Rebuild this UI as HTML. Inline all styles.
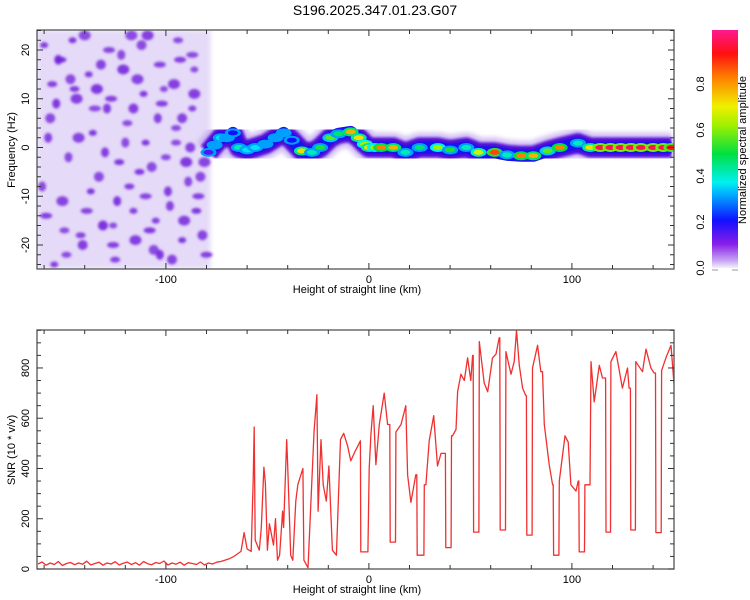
<!DOCTYPE html>
<html><head><meta charset="utf-8"><style>
html,body{margin:0;padding:0;background:#fff}
svg{display:block;font-family:"Liberation Sans",sans-serif}
</style></head><body>
<svg id="c" width="750" height="600" viewBox="0 0 750 600" xmlns="http://www.w3.org/2000/svg">
<defs>
<linearGradient id="cbg" x1="0" y1="1" x2="0" y2="0">
<stop offset="0" stop-color="#f4f0fc"/><stop offset="0.03" stop-color="#c8a8f4"/><stop offset="0.1" stop-color="#8a1ee8"/>
<stop offset="0.2" stop-color="#1010ff"/><stop offset="0.3" stop-color="#00a0ff"/><stop offset="0.36" stop-color="#00f0f0"/>
<stop offset="0.48" stop-color="#00e040"/><stop offset="0.6" stop-color="#a0f000"/><stop offset="0.68" stop-color="#f0f000"/>
<stop offset="0.8" stop-color="#ff8000"/><stop offset="0.9" stop-color="#ff1010"/><stop offset="1" stop-color="#ff1890"/>
</linearGradient>
<clipPath id="clipTop"><rect x="37" y="30" width="637" height="239"/></clipPath>
<clipPath id="clipBot"><rect x="37" y="330" width="637" height="239"/></clipPath>
<filter id="blur1"><feGaussianBlur stdDeviation="1.2"/></filter>
<filter id="blur2"><feGaussianBlur stdDeviation="2.5"/></filter>
</defs>
<text x="375" y="15" text-anchor="middle" font-size="14">S196.2025.347.01.23.G07</text>
<g id="topPanel"></g>
<g id="botPanel"></g>
<g id="cb"></g>
</svg>
<script>
// ---- data ----
const xDomain = [-163.5, 150.3];
const xTicks = [-100, 0, 100];
const freqTicks = [-20, -10, 0, 10, 20];
const snrTicks = [0, 200, 400, 600, 800];
const cbTicks = [0.0, 0.2, 0.4, 0.6, 0.8];
// SNR series (km, value) — rows of ten
const snrKm = [
-163,-161,-159,-157,-155,-153,-151,-149,-147,-145,
-143,-141,-139,-137,-135,-133,-131,-129,-127,-125,
-123,-121,-119,-117,-115,-113,-111,-109,-107,-105,
-103,-101,-99,-97,-95,-93,-91,-89,-87,-85,
-83,-81,-79,-77,-75,-73,-71,-69,
-66.5,-63,-61.5,-60,-58,-57,-56.5,-56,-54,-53,
-51.7,-51,-50,-49,-47,-46,-45,-44,-42.5,-42,
-40.5,-40,-38.5,-37.5,-36,-35,-33.5,-32.5,-32,-30,
-28.6,-27,-25.6,-25,-23.6,-22.5,-21,-19.7,-18,-16,
-14,-12.4,-10.5,-8.9,-7,-5.4,-4.2,-4,-0.5,0.16,
0.99,2.1,3.45,5.1,7.55,9.2,10.3,10.5,13.1,13.3,
15.8,18.2,19.05,20.7,23.1,23.6,23.8,27.1,27.3,28.1,
29.7,31.9,33.8,35.5,37.1,37.7,37.9,40.5,40.7,41.2,
42.9,43.7,45.3,47,48.6,50.2,51.1,51.4,51.6,54.2,
54.4,56.8,58.5,60.9,62.6,64.2,64.5,64.7,67.3,67.5,
70,71.6,72.7,74.1,75.7,77.3,77.6,77.8,80.4,80.6,
83.1,84.7,85.5,86.4,88.8,90.5,90.8,91,93.6,93.8,
96.6,98.2,99.5,102,103.1,103.4,103.6,106.2,106.4,108.9,
109.4,111,113.5,115.1,116.6,116.8,119,119.2,121.7,124.9,
127.4,128.2,128.8,129,131.3,131.5,134.8,136.5,138.9,140.5,
141.2,141.4,144,144.2,146.3,148.8,151];
const snrVal = [
20,28,15,24,18,30,14,22,26,17,
24,19,31,16,22,27,15,24,20,29,
16,23,28,18,25,15,30,21,17,26,
22,32,16,24,19,27,15,25,22,18,
28,16,24,20,27,30,35,40,
50,70,145,80,70,355,565,115,75,165,
405,340,75,180,95,200,35,55,230,165,
515,410,55,35,270,335,375,400,35,5,
255,550,693,230,515,335,270,410,75,55,
515,540,490,430,465,490,510,68,68,400,
535,650,415,575,700,575,575,107,107,545,
575,650,375,265,375,375,55,55,335,335,
510,610,410,460,460,460,85,85,530,530,
555,705,775,750,840,750,850,850,147,147,
905,740,705,840,855,920,920,155,155,865,
775,825,950,810,720,690,690,135,135,800,
890,785,785,575,415,335,335,55,55,350,
530,505,335,310,350,350,68,68,335,335,
825,665,810,760,760,147,147,825,865,720,
800,720,720,155,155,825,785,875,800,780,
780,145,145,790,840,890,665];
// spectrogram ridge
const ridgeKm = [-79,-76,-73,-70,-67,-64,-60,-56,-51,-46,-42,-38,-33,-28,-24,-19,-15,-9,-5,-2,0,3,6,12,18,25,34,40,48,54,62,68,75,81,88,94,103,109,114,119,124,129,134,140,145,149];
const ridgeHz = [-1,0.5,2,2,3,0,-0.5,0,0.7,2,3,1.5,-0.7,-1,0,2,2.8,3.2,2,0.7,0,0,0,0,-1,0,0,-0.5,0,-1,-1,-1.5,-1.7,-1.7,-0.7,0,0.9,0,0,0,0,0,0,0,0,0];
const ridgeAmp = [0.15,0.3,0.35,0.3,0.2,0.4,0.35,0.35,0.3,0.3,0.3,0.2,0.7,0.4,0.5,0.55,0.45,0.75,0.7,0.6,0.7,0.6,0.8,0.75,0.4,0.45,0.6,0.5,0.4,0.65,0.85,0.4,0.8,0.75,0.55,0.8,0.4,0.7,0.95,0.95,0.95,0.95,0.95,0.95,0.95,0.9];
// vertical streaks (km, top Hz, bottom Hz)
const streakKm = [-64,-53,-38,-25,2,12,18,26,33,40,46,53,62,72,84,101,112,125,140,146];
const streakTop = [6,4,7,3,4,3,2,3,3,5,4,3,3,4,3,4,5,4,4,3];
const streakBot = [-5,-4,-6,-4,-9,-5,-4,-4,-5,-5,-4,-3,-4,-7,-6,-5,-6,-4,-4,-6];
// noise blobs (km, Hz, level 0..1)
const noiseKm = [-160,-157,-152,-148,-145,-140,-136,-131,-127,-122,-118,-114,-110,-106,-102,-98,-94,-90,-86,-82,-159,-154,-149,-143,-138,-133,-128,-124,-119,-115,-111,-107,-103,-99,-95,-91,-87,-83,-80,-161,-156,-151,-146,-141,-135,-130,-125,-121,-116,-112,-108,-104,-100,-96,-92,-88,-84,-158,-150,-144,-137,-132,-126,-120,-113,-109,-101,-97,-93,-89,-85,-81,-155,-147,-139,-129,-123,-117,-105,-92,-87,-153,-142,-134,-126,-116,-110,-103,-95,-86];
const noiseHz = [21,6,18,-2,12,23,3,-16,10,19,-8,14,1,-21,9,-12,22,-3,16,-18,-14,9,-22,2,15,-6,20,-11,5,-19,11,-4,17,-9,4,-15,8,-6,-22,-8,13,-11,22,-20,8,-1,-23,16,-13,21,-17,6,-2,13,-19,0,-10,2,-17,10,-9,17,-20,1,-5,23,12,-23,18,-7,-13,-3,-24,14,-13,8,-3,23,-15,6,19,18,-18,12,-16,8,-10,-22,1,11];
const noiseLvl = [0.12,0.1,0.14,0.1,0.12,0.1,0.13,0.14,0.12,0.1,0.12,0.11,0.13,0.1,0.12,0.11,0.1,0.13,0.1,0.11,0.12,0.13,0.1,0.11,0.12,0.1,0.11,0.13,0.1,0.12,0.13,0.1,0.11,0.12,0.1,0.12,0.11,0.1,0.12,0.1,0.12,0.11,0.13,0.12,0.1,0.12,0.11,0.13,0.12,0.1,0.13,0.11,0.1,0.12,0.13,0.11,0.12,0.11,0.1,0.12,0.13,0.11,0.12,0.1,0.13,0.12,0.1,0.11,0.12,0.1,0.13,0.11,0.12,0.1,0.11,0.12,0.13,0.1,0.12,0.11,0.1,0.12,0.11,0.13,0.1,0.12,0.11,0.13,0.1,0.12];

// ---- scales ----
const L = 37, R = 674;
const sx = v => L + (v - xDomain[0]) / (xDomain[1] - xDomain[0]) * (R - L);
const sf = v => 147.5 - v * 4.875;
const ss = v => 569 - v * 0.2513;
const NS = 'http://www.w3.org/2000/svg';
function mk(tag, attrs, parent) {
  const e = document.createElementNS(NS, tag);
  for (const k in attrs) e.setAttribute(k, attrs[k]);
  parent.appendChild(e);
  return e;
}
const cstops = [[0,[244,240,252]],[0.03,[200,168,244]],[0.1,[138,30,232]],[0.2,[16,16,255]],[0.3,[0,160,255]],[0.36,[0,240,240]],[0.48,[0,224,64]],[0.6,[160,240,0]],[0.68,[240,240,0]],[0.8,[255,128,0]],[0.9,[255,16,16]],[1,[255,24,144]]];
function cmap(v) {
  for (let i = 1; i < cstops.length; i++) if (v <= cstops[i][0]) {
    const a = cstops[i-1], b = cstops[i], t = (v - a[0]) / (b[0] - a[0]);
    return 'rgb(' + a[1].map((c, j) => Math.round(c + (b[1][j] - c) * t)).join(',') + ')';
  }
  return 'rgb(255,24,144)';
}

// ---- top panel ----
const topPanel = document.getElementById('topPanel');
const tg = mk('g', {'clip-path': 'url(#clipTop)'}, topPanel);


const noiseBg = mk('rect', {x: sx(-163.5), y: 30, width: sx(-78) - sx(-163.5), height: 239, fill: '#d4c2f3', opacity: 0.6, filter: 'url(#blur2)'}, tg);


const ng = mk('g', {filter: 'url(#blur1)'}, tg);
for (let i = 0; i < noiseKm.length; i++) {
  const c = mk('ellipse', {cx: sx(noiseKm[i]), cy: sf(noiseHz[i]), rx: 4 + (i % 3), ry: 3 + (i % 2) * 2, fill: '#7424dc', opacity: 0.5 + noiseLvl[i] * 3}, ng);
  
  
}
for (let i = 0; i < streakKm.length; i++) {
  const s = mk('line', {x1: sx(streakKm[i]), x2: sx(streakKm[i]), y1: sf(streakTop[i]), y2: sf(streakBot[i]), stroke: '#6a20e0', 'stroke-width': 3.5, opacity: 0.85, filter: 'url(#blur1)'}, tg);
  
  
}
let rp = '';
ridgeKm.forEach((k, i) => { rp += (i ? 'L' : 'M') + sx(k).toFixed(1) + ',' + sf(ridgeHz[i]).toFixed(1); });
const halo = mk('path', {d: rp, fill: 'none', stroke: '#b898ee', 'stroke-width': 30, 'stroke-linejoin': 'round', opacity: 0.6, filter: 'url(#blur2)'}, tg);


const band = mk('path', {d: rp, fill: 'none', stroke: '#5010d8', 'stroke-width': 20, 'stroke-linejoin': 'round', filter: 'url(#blur1)'}, tg);


const band2 = mk('path', {d: rp, fill: 'none', stroke: '#1a10f0', 'stroke-width': 12, 'stroke-linejoin': 'round'}, tg);


for (let i = 0; i < ridgeKm.length; i++) {
  const a = ridgeAmp[i];
  const o = mk('ellipse', {cx: sx(ridgeKm[i]), cy: sf(ridgeHz[i]), rx: 8, ry: 4.5, fill: cmap(Math.max(0.3, a * 0.6))}, tg);
  
  
  const c = mk('ellipse', {cx: sx(ridgeKm[i]), cy: sf(ridgeHz[i]), rx: 5, ry: 2.5, fill: cmap(a)}, tg);
  
  
}
function drawFrame(g, y0, y1, name) {
  const f = mk('rect', {x: L, y: y0, width: R - L, height: y1 - y0, fill: 'none', stroke: '#555', 'stroke-width': 1.3}, g);
  
  
}
function xAxis(g, y0, y1, labelName) {
  for (let v = -160; v <= 150; v += 20) {
    const major = v % 100 === 0, len = major ? 6 : 4;
    mk('line', {x1: sx(v), x2: sx(v), y1: y1, y2: y1 - len, stroke: '#333'}, g);
    mk('line', {x1: sx(v), x2: sx(v), y1: y0, y2: y0 + len, stroke: '#333'}, g);
  }
  xTicks.forEach(v => {
    const t = mk('text', {x: sx(v), y: y1 + 14, 'text-anchor': 'middle', 'font-size': 11}, g);
    t.textContent = v;
    
    
  });
  const t = mk('text', {x: 357, y: y1 + 24, 'text-anchor': 'middle', 'font-size': 11}, g);
  t.textContent = 'Height of straight line (km)';
  
  
}
drawFrame(topPanel, 30, 269, 'spectrogram-frame');
xAxis(topPanel, 30, 269, 'x-axis-title-top');
for (let v = -24; v <= 24; v += 2) {
  const len = v % 10 === 0 ? 6 : 4;
  mk('line', {x1: L, x2: L + len, y1: sf(v), y2: sf(v), stroke: '#333'}, topPanel);
  mk('line', {x1: R, x2: R - len, y1: sf(v), y2: sf(v), stroke: '#333'}, topPanel);
}
freqTicks.forEach(v => {
  const t = mk('text', {x: 0, y: 0, 'text-anchor': 'middle', 'font-size': 11, transform: 'translate(29,' + sf(v) + ') rotate(-90)'}, topPanel);
  t.textContent = v;
  
  
});
const yt = mk('text', {x: 0, y: 0, 'text-anchor': 'middle', 'font-size': 11, transform: 'translate(15,150) rotate(-90)'}, topPanel);
yt.textContent = 'Frequency (Hz)';



// ---- bottom panel ----
const botPanel = document.getElementById('botPanel');
const bg = mk('g', {'clip-path': 'url(#clipBot)'}, botPanel);
let sp = '';
snrKm.forEach((k, i) => { sp += (i ? 'L' : 'M') + sx(k).toFixed(1) + ',' + ss(snrVal[i]).toFixed(1); });
const snrLine = mk('path', {d: sp, fill: 'none', stroke: '#f03030', 'stroke-width': 1.3, 'stroke-linejoin': 'round'}, bg);


drawFrame(botPanel, 330, 569, 'snr-frame');
xAxis(botPanel, 330, 569, 'x-axis-title-bottom');
for (let v = 0; v <= 950; v += 50) {
  const len = v % 200 === 0 ? 6 : 4;
  mk('line', {x1: L, x2: L + len, y1: ss(v), y2: ss(v), stroke: '#333'}, botPanel);
  mk('line', {x1: R, x2: R - len, y1: ss(v), y2: ss(v), stroke: '#333'}, botPanel);
}
snrTicks.forEach(v => {
  const t = mk('text', {x: 0, y: 0, 'text-anchor': 'middle', 'font-size': 11, transform: 'translate(29,' + ss(v) + ') rotate(-90)'}, botPanel);
  t.textContent = v;
  
  
});
const yb = mk('text', {x: 0, y: 0, 'text-anchor': 'middle', 'font-size': 11, transform: 'translate(15,450) rotate(-90)'}, botPanel);
yb.textContent = 'SNR (10 * v/v)';



// ---- colorbar ----
const cbG = document.getElementById('cb');
const cbr = mk('rect', {x: 712, y: 30, width: 26, height: 238, fill: 'url(#cbg)'}, cbG);


const cyScale = v => 268 - v * 230;
cbTicks.forEach(v => {
  const t = mk('text', {x: 0, y: 0, 'text-anchor': 'middle', 'font-size': 11, transform: 'translate(704,' + cyScale(v) + ') rotate(-90)'}, cbG);
  t.textContent = v.toFixed(1);
  
  
});
mk('line', {x1: 712, x2: 718, y1: 270, y2: 270, stroke: '#999'}, cbG);
mk('line', {x1: 732, x2: 738, y1: 270, y2: 270, stroke: '#999'}, cbG);
const ct = mk('text', {x: 0, y: 0, 'text-anchor': 'middle', 'font-size': 11, transform: 'translate(746,150) rotate(-90)'}, cbG);
ct.textContent = 'Normalized spectral amplitude';


</script>
</body></html>
